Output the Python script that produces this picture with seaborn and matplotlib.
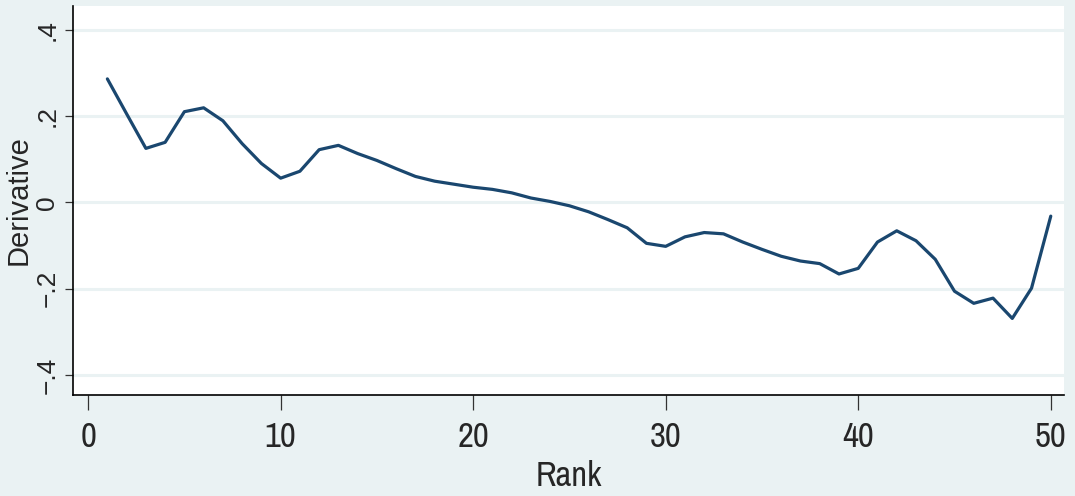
import numpy as np
import pandas as pd
import matplotlib
matplotlib.use("Agg")
import matplotlib.pyplot as plt
import seaborn as sns
from matplotlib.ticker import FixedLocator, FixedFormatter

# Derivative estimate by rank
rank = list(range(1, 51))
derivative = [
    0.286, 0.205, 0.125, 0.139, 0.210, 0.219, 0.189, 0.136, 0.090, 0.056,
    0.072, 0.122, 0.132, 0.113, 0.097, 0.078, 0.060, 0.049, 0.042, 0.035,
    0.030, 0.022, 0.010, 0.002, -0.008, -0.022, -0.040, -0.059, -0.095, -0.102,
    -0.080, -0.070, -0.073, -0.092, -0.109, -0.125, -0.136, -0.142, -0.166, -0.153,
    -0.092, -0.066, -0.089, -0.132, -0.206, -0.234, -0.222, -0.269, -0.199, -0.032,
]
x_ticks = [0, 10, 20, 30, 40, 50]
y_ticks = [-0.4, -0.2, 0.0, 0.2, 0.4]
y_tick_labels = ["\u2212.4", "\u2212.2", "0", ".2", ".4"]

df = pd.DataFrame({"Rank": rank, "Derivative": derivative})

sns.set_style("white")
plt.rcParams["font.family"] = ["Liberation Sans", "DejaVu Sans"]

bg = "#EAF2F3"
navy = "#1A476F"
narrow = ["Archivo Narrow", "DejaVu Sans"]

fig = plt.figure(figsize=(10.75, 4.96), dpi=100, facecolor=bg)
ax = fig.add_axes([0.068, 0.204, 0.922, 0.784])
ax.set_facecolor("white")

sns.lineplot(data=df, x="Rank", y="Derivative", ax=ax, color=navy, linewidth=2.3)

ax.set_xlim(-0.78, 50.7)
ax.set_ylim(-0.446, 0.455)

ax.xaxis.set_major_locator(FixedLocator(x_ticks))
ax.set_xticklabels([str(t) for t in x_ticks])
ax.yaxis.set_major_locator(FixedLocator(y_ticks))
ax.yaxis.set_major_formatter(FixedFormatter(y_tick_labels))

ax.grid(axis="y", color=bg, linewidth=2.2)
ax.grid(axis="x", visible=False)
ax.set_axisbelow(True)

for side in ("top", "right"):
    ax.spines[side].set_visible(False)
for side in ("left", "bottom"):
    ax.spines[side].set_color("black")
    ax.spines[side].set_linewidth(1.2)

ax.tick_params(axis="x", direction="out", length=11, width=0.9, color="#333333",
               labelsize=25, pad=8, bottom=True)
ax.tick_params(axis="y", direction="out", length=6, width=0.9, color="#333333",
               labelsize=19, pad=4, left=True)
for lab in ax.get_xticklabels():
    lab.set_family(narrow)
for lab in ax.get_yticklabels():
    lab.set_rotation(90)
    lab.set_va("center")

ax.set_xlabel("Rank", fontsize=25, labelpad=5, family=narrow)
ax.set_ylabel("Derivative", fontsize=21)
ax.yaxis.set_label_coords(-0.0405, 0.5)

fig.savefig("out.png", dpi=100, facecolor=bg)
